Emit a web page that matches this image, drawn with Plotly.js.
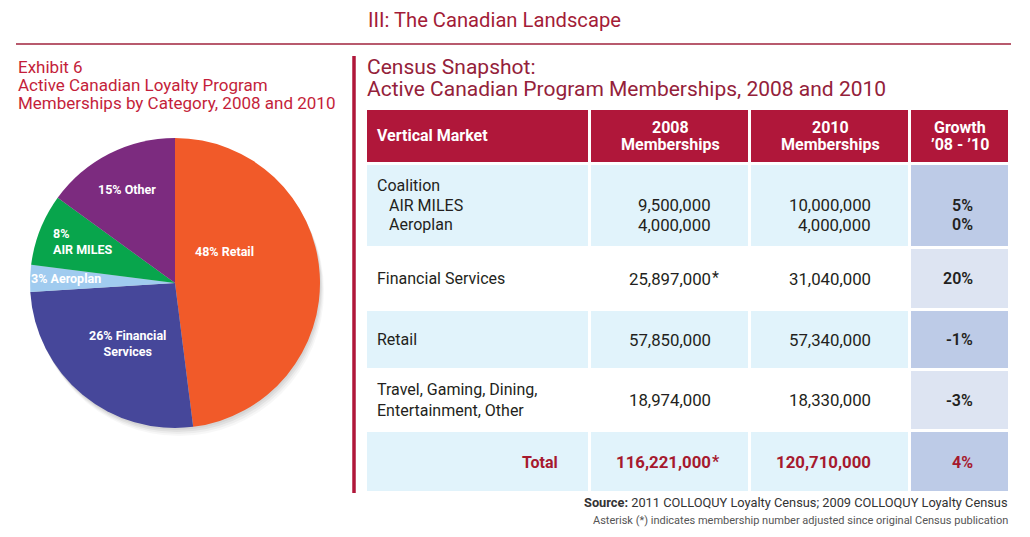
<!DOCTYPE html>
<html><head><meta charset="utf-8">
<script src="https://cdn.plot.ly/plotly-3.0.1.min.js"></script>
<style>html,body{margin:0;padding:0;background:#fff}#chart{width:1030px;height:537px}</style>
</head><body><div id="chart"></div>
<script>
// ---------- DATA ----------
const pieCategories = ['Retail', 'Financial Services', 'Aeroplan', 'AIR MILES', 'Other'];
const pieShares = [48, 26, 3, 8, 15];

const headerLabels = ['Vertical Market', '2008|Memberships', '2010|Memberships', 'Growth|\u201908 - \u201910'];

const coalitionLabel = 'Coalition';
const coalitionPrograms = ['AIR MILES', 'Aeroplan'];
const coalition2008 = [9500000, 4000000];
const coalition2010 = [10000000, 4000000];
const coalitionGrowth = [5, 0];

const marketNames = ['Financial Services', 'Retail', 'Travel, Gaming, Dining,<br>Entertainment, Other'];
const members2008 = [25897000, 57850000, 18974000];
const members2010 = [31040000, 57340000, 18330000];
const growthPct = [20, -1, -3];
const adjusted2008 = [true, false, false];

const totalLabel = 'Total';
const total2008 = 116221000;
const total2010 = 120710000;
const totalGrowth = 4;
const totalAdjusted = true;

// ---------- STYLE / LAYOUT ----------
const W = 1030, H = 537;
const px = x => x / W, py = y => 1 - y / H;
const FONT = 'Roboto, "Open Sans", sans-serif';
const INK = '#231f20', RED = '#a6192e';
const sliceColors = ['#f15a29', '#46479a', '#a0cbef', '#08a54c', '#7c2b7f'];

const colWidths = [224, 160, 160, 100];
const rowHeights = [55, 84, 62, 60, 61, 62];
const colEdges = [0]; colWidths.forEach(w => colEdges.push(colEdges[colEdges.length - 1] + w));
const rowEdges = [0]; rowHeights.forEach(h => rowEdges.push(rowEdges[rowEdges.length - 1] + h));
const rowMid = i => rowEdges[i] + rowHeights[i] / 2;
const fmt = n => n.toLocaleString('en-US');
const pctTxt = n => n + '%';

// fill codes: 0 header, 1 light blue, 2 white, 3 lavender, 4 light lavender
const fillZ = [[0, 0, 0, 0], [1, 1, 1, 3], [2, 2, 2, 4], [1, 1, 1, 3], [2, 2, 2, 4], [1, 1, 1, 3]];
const fillScale = [[0, '#b0173a'], [0.25, '#e1f3fb'], [0.5, '#ffffff'], [0.75, '#bdcbe7'], [1, '#dde4f2']];

const traces = [];
// pie shadow layers
[[1, 2, 0.05], [2, 4, 0.05], [3, 6, 0.04], [4, 8, 0.03]].forEach(([dx, dy, a]) => {
  traces.push({
    type: 'pie', values: [1], labels: ['s'], sort: false, textinfo: 'none', hoverinfo: 'skip',
    marker: { colors: ['rgba(0,0,0,' + a + ')'], line: { width: 0 } },
    domain: { x: [px(30 + dx), px(320 + dx)], y: [py(428 + dy), py(138 + dy)] }, showlegend: false
  });
});
traces.push({
  type: 'pie', labels: pieCategories, values: pieShares, sort: false, direction: 'clockwise', rotation: 0,
  textinfo: 'none', hoverinfo: 'label+percent',
  marker: { colors: sliceColors, line: { width: 0 } },
  domain: { x: [px(30), px(320)], y: [py(428), py(138)] }, showlegend: false
});
traces.push({
  type: 'heatmap', x: colEdges, y: rowEdges, z: fillZ, zmin: 0, zmax: 4, colorscale: fillScale,
  showscale: false, xgap: 3, ygap: 3, hoverinfo: 'skip', xaxis: 'x', yaxis: 'y'
});

const ann = [];
function A(o) { ann.push(Object.assign({ showarrow: false, borderpad: 0, borderwidth: 0 }, o)); }
function P(text, x, y, size, color, extra) {
  A(Object.assign({ xref: 'paper', yref: 'paper', x: px(x), y: py(y), text: text,
    font: { family: FONT, size: size, color: color }, xanchor: 'left', yanchor: 'middle' }, extra || {}));
}
function T(text, x, y, anchor, opts) {
  opts = opts || {};
  A({ xref: 'x', yref: 'y', x: x, y: y, text: text, xanchor: anchor, yanchor: 'middle', align: opts.align || anchor,
    font: { family: FONT, size: opts.size || 16, color: opts.color || INK, weight: opts.weight || 400 } });
}
const NUM = 16.8;

// titles
P('III: The Canadian Landscape', 494, 20, 20.2, '#a31c37', { xanchor: 'center' });
['Exhibit 6', 'Active Canadian Loyalty Program', 'Memberships by Category, 2008 and 2010']
  .forEach((t, i) => P(t, 18, 67 + 18 * i, 17, '#c41e3a'));
P('Census Snapshot:', 367, 67, 21, '#94213a');
P('Active Canadian Program Memberships, 2008 and 2010', 367, 89, 21, '#94213a');

// pie labels
const pieLabelPos = [
  { x: 224, y: 252, brk: null, a: 'center' },
  { x: 127, y: 343, brk: 'last', a: 'center' },
  { x: 66, y: 278, brk: null, a: 'center' },
  { x: 53, y: 241, brk: 'pct', a: 'left' },
  { x: 127, y: 190, brk: null, a: 'center' }
];
pieCategories.forEach((c, i) => {
  const p = pieLabelPos[i];
  let t = pieShares[i] + '% ' + c;
  if (p.brk === 'pct') t = pieShares[i] + '%<br>' + c;
  if (p.brk === 'last') { const k = t.lastIndexOf(' '); t = t.slice(0, k) + '<br>' + t.slice(k + 1); }
  A({ xref: 'paper', yref: 'paper', x: px(p.x), y: py(p.y), text: t, xanchor: p.a, yanchor: 'middle', align: p.a,
    font: { family: FONT, size: 12.5, color: '#ffffff', weight: 700 } });
});

// table header
const c1L = colEdges[0] + 11;
const c2R = colEdges[2] - 39, c3R = colEdges[3] - 39, c4R = colEdges[4] - 37;
T(headerLabels[0], c1L, rowMid(0) - 1, 'left', { color: '#fff', weight: 700 });
[1, 2, 3].forEach(j => {
  const parts = headerLabels[j].split('|');
  const cx = (colEdges[j] + colEdges[j + 1]) / 2;
  T(parts[0], cx, rowMid(0) - 8.5, 'center', { color: '#fff', weight: 700 });
  T(parts[1], cx, rowMid(0) + 8.5, 'center', { color: '#fff', weight: 700 });
});

// coalition row
const m1 = rowMid(1);
const G = { weight: 600 };
T(coalitionLabel, c1L, m1 - 20, 'left');
coalitionPrograms.forEach((p, k) => {
  const y = m1 - 0.5 + 19.5 * k;
  T(p, c1L + 12, y, 'left');
  T(fmt(coalition2008[k]), c2R, y, 'right', { size: NUM });
  T(fmt(coalition2010[k]), c3R, y, 'right', { size: NUM });
  T(pctTxt(coalitionGrowth[k]), c4R, y, 'right', G);
});

// other markets
marketNames.forEach((m, k) => {
  const y = rowMid(k + 2) - 0.5;
  T(m, c1L, y, 'left');
  T(fmt(members2008[k]), c2R, y, 'right', { size: NUM });
  if (adjusted2008[k]) T('*', c2R + 0.5, y - 1, 'left');
  T(fmt(members2010[k]), c3R, y, 'right', { size: NUM });
  T(pctTxt(growthPct[k]), c4R, y, 'right', G);
});

// total
const yT = rowMid(5);
const bold = { color: RED, weight: 700 };
const boldN = { color: RED, weight: 700, size: NUM };
T(totalLabel, colEdges[1] - 32, yT, 'right', bold);
T(fmt(total2008), c2R, yT, 'right', boldN);
if (totalAdjusted) T('*', c2R + 0.5, yT - 1, 'left', bold);
T(fmt(total2010), c3R, yT, 'right', boldN);
T(pctTxt(totalGrowth), c4R, yT, 'right', bold);

// footer
P('<b>Source:</b> 2011 COLLOQUY Loyalty Census; 2009 COLLOQUY Loyalty Census', 1008, 502, 12.8, '#333333', { xanchor: 'right' });
P('Asterisk (*) indicates membership number adjusted since original Census publication', 1008, 520, 11, '#555555', { xanchor: 'right' });

const layout = {
  width: W, height: H, margin: { l: 0, r: 0, t: 0, b: 0 },
  paper_bgcolor: '#ffffff', plot_bgcolor: 'rgba(0,0,0,0)', showlegend: false,
  xaxis: { domain: [px(366), px(1010)], range: [0, colEdges[4]], visible: false, fixedrange: true },
  yaxis: { domain: [py(493), py(109)], range: [rowEdges[6], 0], visible: false, fixedrange: true },
  shapes: [
    { type: 'line', xref: 'paper', yref: 'paper', x0: px(16), x1: px(1011), y0: py(44), y1: py(44), line: { color: '#a0233c', width: 1.5 } },
    { type: 'line', xref: 'paper', yref: 'paper', x0: px(354), x1: px(354), y0: py(56), y1: py(493), line: { color: '#b0173a', width: 3.5 } }
  ],
  annotations: ann
};
Plotly.newPlot('chart', traces, layout, { displayModeBar: false, staticPlot: true });
</script></body></html>
